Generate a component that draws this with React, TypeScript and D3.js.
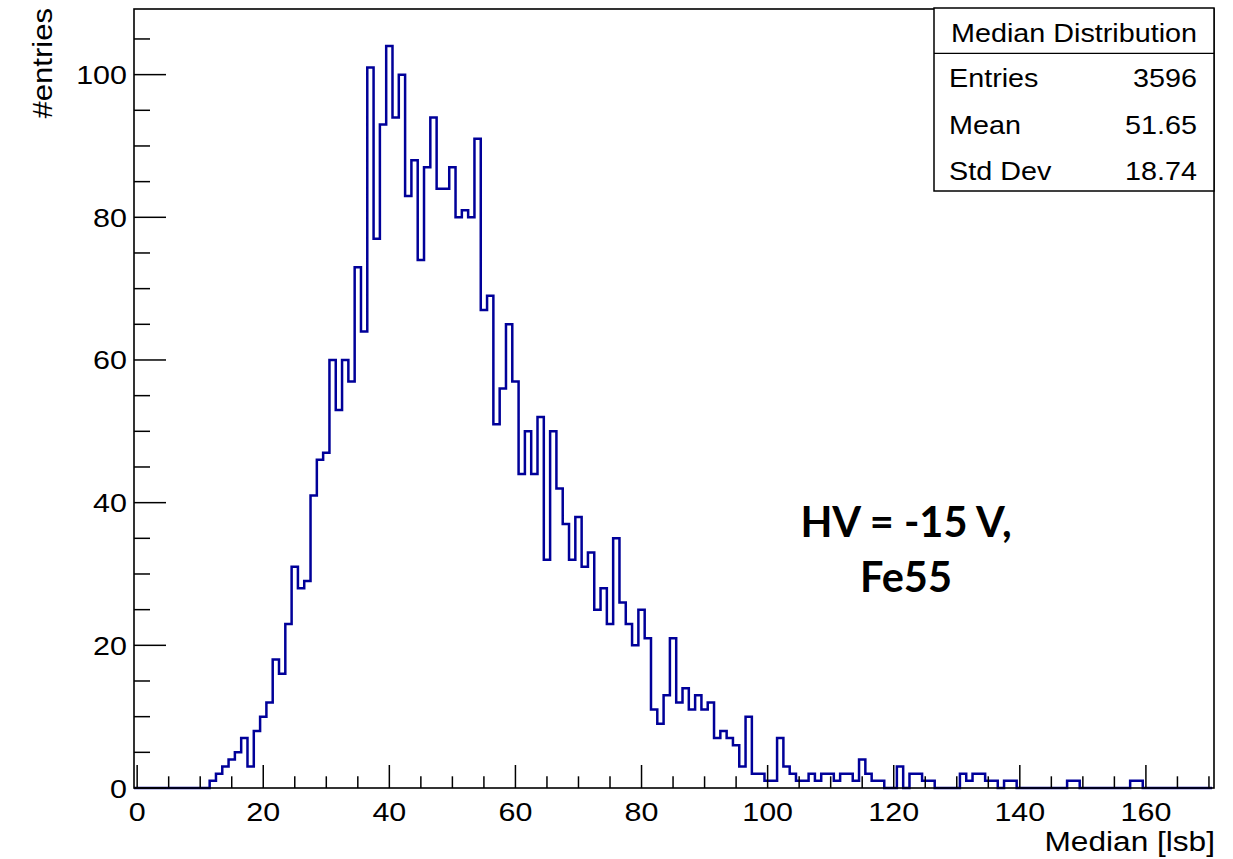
import React from "react";
import * as d3 from "d3";

// ---- data ----
const BIN_LOW = -0.5; // left edge of first bin
const BIN_WIDTH = 1;
// counts for bins centred at 0,1,2,...,170
const BIN_COUNTS: number[] = [
  0, 0, 0, 0, 0, 0, 0, 0, 0, 0, 0, 0,
  1, 2, 3, 4, 5, 7, 3, 8, 10, 12, 18, 16, 23, 31, 28, 29, 41, 46, 47,
  60, 53, 60, 57, 73, 64, 101, 77, 93, 104, 94, 100, 83, 88, 74, 87, 94, 84, 84, 87, 80, 81, 80,
  91, 67, 69, 51, 56, 65, 57, 44, 50, 44, 52, 32, 50, 42, 37, 32, 38, 31, 33,
  25, 28, 23, 35, 26, 23, 20, 25, 21, 11, 9, 13, 21, 12, 14, 11, 13, 11, 12, 7, 8, 7, 6, 3, 10, 2, 2, 1, 1, 7,
  3, 2, 1, 1, 2, 1, 2, 2, 1, 2, 2, 1, 4, 2, 1, 1, 0, 0, 3, 0, 2, 2, 1, 1, 0, 0, 0, 0, 2, 1, 2, 2, 1, 1, 0, 1, 1,
  0, 0, 0, 0, 0, 0, 0, 0,
  1, 1,
  0, 0, 0, 0, 0, 0, 0, 0,
  1, 1,
  0, 0, 0, 0, 0, 0, 0, 0, 0, 0, 0,
];

const X_DOMAIN: [number, number] = [-0.5, 170.8];
const Y_DOMAIN: [number, number] = [0, 109.2];
const X_MAJOR = [0, 20, 40, 60, 80, 100, 120, 140, 160];
const Y_MAJOR = [0, 20, 40, 60, 80, 100];
const X_TITLE = "Median [lsb]";
const Y_TITLE = "#entries";

const STAT_TITLE = "Median Distribution";
const STAT_LABELS = ["Entries", "Mean", "Std Dev"];
const STAT_VALUES = ["3596", "51.65", "18.74"];

const NOTE_LINES = ["HV = -15 V,", "Fe55"];

// ---- layout ----
const W = 1233;
const H = 859;
const FL = 134, FR = 1214, FT = 9, FB = 788;
const HELV = "'Liberation Sans', Arial, Helvetica, sans-serif";
const SX = 1.15;
const HIST_COLOR = "#000099";

function SText(props: {
  x: number; y: number; anchor?: string; size: number; sx?: number;
  rotate?: number; weight?: string | number; family?: string; children: React.ReactNode;
}) {
  const { x, y, anchor = "start", size, sx = SX, rotate = 0, weight = "normal", family = HELV } = props;
  return (
    <g transform={`translate(${x},${y}) rotate(${rotate}) scale(${sx},1)`}>
      <text x={0} y={0} textAnchor={anchor} fontSize={size} fontFamily={family} fontWeight={weight} fill="#000">
        {props.children}
      </text>
    </g>
  );
}

export default function App() {
  const x = d3.scaleLinear().domain(X_DOMAIN).range([FL, FR]);
  const y = d3.scaleLinear().domain(Y_DOMAIN).range([FB, FT]);

  // histogram outline
  const pts: [number, number][] = [];
  pts.push([BIN_LOW, 0]);
  BIN_COUNTS.forEach((c, i) => {
    pts.push([BIN_LOW + i * BIN_WIDTH, c]);
  });
  const lastEdge = BIN_LOW + BIN_COUNTS.length * BIN_WIDTH;
  pts.push([lastEdge, BIN_COUNTS[BIN_COUNTS.length - 1]]);
  pts.push([lastEdge, 0]);
  const line = d3
    .line<[number, number]>()
    .x((d) => x(d[0]))
    .y((d) => y(d[1]))
    .curve(d3.curveStepAfter);
  const histPath = line(pts) || "";

  const xMinor = d3.range(5, 171, 5).filter((v) => v % 20 !== 0);
  const yMinor = d3.range(5, 109, 5).filter((v) => v % 20 !== 0);

  const xMajLen = 23, xMinLen = 11.7, yMajLen = 32, yMinLen = 16;

  const boxL = 934, boxR = 1214, boxT = 8, boxB = 191, sep = 53.3;

  return (
    <svg width={W} height={H} style={{ position: "absolute", left: 0, top: 0, display: "block", background: "#fff" }}>
      <rect x={0} y={0} width={W} height={H} fill="#fff" />

      {/* histogram */}
      <path d={histPath} fill="none" stroke={HIST_COLOR} strokeWidth={2.5} strokeLinejoin="miter" />

      {/* ticks */}
      <g stroke="#000" strokeWidth={1.5}>
        {X_MAJOR.map((v) => (
          <line key={"xM" + v} x1={x(v)} x2={x(v)} y1={FB} y2={FB - xMajLen} />
        ))}
        {xMinor.map((v) => (
          <line key={"xm" + v} x1={x(v)} x2={x(v)} y1={FB} y2={FB - xMinLen} />
        ))}
        {Y_MAJOR.map((v) => (
          <line key={"yM" + v} x1={FL} x2={FL + yMajLen} y1={y(v)} y2={y(v)} />
        ))}
        {yMinor.map((v) => (
          <line key={"ym" + v} x1={FL} x2={FL + yMinLen} y1={y(v)} y2={y(v)} />
        ))}
      </g>

      {/* frame */}
      <rect x={FL} y={FT} width={FR - FL} height={FB - FT} fill="none" stroke="#000" strokeWidth={1.6} />

      {/* tick labels */}
      {X_MAJOR.map((v) => (
        <SText key={"xl" + v} x={x(v)} y={821} anchor="middle" size={26.5}>
          {String(v)}
        </SText>
      ))}
      {Y_MAJOR.map((v) => (
        <SText key={"yl" + v} x={127} y={y(v) + 9.5} anchor="end" size={26.5}>
          {String(v)}
        </SText>
      ))}

      {/* axis titles */}
      <SText x={1215} y={851} anchor="end" size={27.5}>{X_TITLE}</SText>
      <SText x={52} y={8} anchor="end" size={27} rotate={-90}>{Y_TITLE}</SText>

      {/* stats box */}
      <rect x={boxL} y={boxT} width={boxR - boxL} height={boxB - boxT} fill="#fff" stroke="#000" strokeWidth={1.5} />
      <line x1={boxL} x2={boxR} y1={sep} y2={sep} stroke="#000" strokeWidth={1.2} />
      <SText x={(boxL + boxR) / 2} y={41.7} anchor="middle" size={25}>{STAT_TITLE}</SText>
      {STAT_LABELS.map((lab, i) => (
        <g key={lab}>
          <SText x={949} y={87.3 + i * 46.4} anchor="start" size={25}>{lab}</SText>
          <SText x={1197} y={87.3 + i * 46.4} anchor="end" size={25}>{STAT_VALUES[i]}</SText>
        </g>
      ))}

      {/* annotation */}
      {NOTE_LINES.map((t, i) => (
        <SText key={t} x={906} y={537 + i * 55} anchor="middle" size={41.5} sx={1} weight="bold" family="Lato, 'Open Sans', sans-serif">
          {t}
        </SText>
      ))}
    </svg>
  );
}
